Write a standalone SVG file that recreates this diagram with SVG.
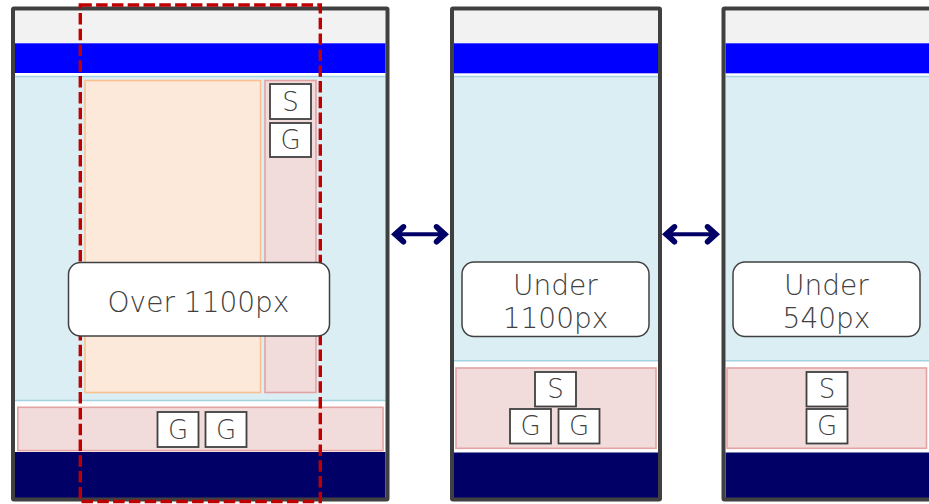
<svg xmlns="http://www.w3.org/2000/svg" width="929" height="504" viewBox="0 0 929 504">
<style>
.frame{fill:none;stroke:#404040;stroke-width:4}
.gray{fill:#f2f2f2}
.blue{fill:#0000ff}
.lb{fill:#daeef3}
.lbl{stroke:#a3d3e0;stroke-width:1.6}
.pink{fill:#f2dcdb;stroke:#e3a3a3;stroke-width:1.6}
.org{fill:#fde9d9;stroke:#fac08f;stroke-width:1.6}
.navy{fill:#000066}
.box{fill:#ffffff;stroke:#404040;stroke-width:1.8}
.lab{fill:#ffffff;stroke:#404040;stroke-width:1.5}
.t{font-family:"DejaVu Sans",sans-serif;font-weight:200;fill:#404040;text-anchor:middle}
.big{font-size:28px}
.sm{font-size:26px}
.arr{stroke:#000066;stroke-width:4;fill:none}
.ah{fill:#000066}
</style>
<defs>
<path id="head" d="M0,0 L10.5,-9.5 Q13,-11.3 14.8,-9.3 Q16.3,-7.3 14.5,-5.5 L9,0 L14.5,5.5 Q16.3,7.3 14.8,9.3 Q13,11.3 10.5,9.5 Z"/>
</defs>
<rect width="929" height="504" fill="#ffffff"/>

<g id="panel-over-1100">
<rect class="gray" x="15" y="10.5" width="370.5" height="32.8"/>
<rect class="blue" x="15" y="43.3" width="370.5" height="29.7"/>
<rect class="lb" x="15" y="76.5" width="370.5" height="324"/>
<line class="lbl" x1="15" y1="76.5" x2="385.5" y2="76.5"/>
<line class="lbl" x1="15" y1="400.5" x2="385.5" y2="400.5"/>
<rect class="org" x="85" y="80.5" width="175.5" height="312"/>
<rect class="pink" x="265" y="80.5" width="51" height="312"/>
<g id="p1-s"><rect class="box" x="270" y="84" width="41" height="35"/><text class="t sm" x="290.5" y="110.5">S</text></g>
<g id="p1-g"><rect class="box" x="270" y="123" width="41" height="34"/><text class="t sm" x="290.5" y="149">G</text></g>
<rect class="pink" x="17.8" y="407.3" width="365.2" height="43.3"/>
<g id="p1-g2"><rect class="box" x="157.5" y="412" width="41" height="35"/><text class="t sm" x="178" y="438.5">G</text></g>
<g id="p1-g3"><rect class="box" x="205.5" y="412" width="41" height="35"/><text class="t sm" x="226" y="438.5">G</text></g>
<rect class="navy" x="15" y="452" width="370.5" height="48"/>
<rect class="frame" x="13" y="8.5" width="374.5" height="491" rx="1"/>
<rect x="80.3" y="5" width="240" height="496.5" fill="none" stroke="#c00000" stroke-width="3.4" stroke-dasharray="11.5 4.3"/>
<g id="label-over"><rect class="lab" x="68.5" y="262.5" width="261" height="73.5" rx="12"/><text class="t big" x="198.5" y="312">Over 1100px</text></g>
</g>

<g id="panel-under-1100">
<rect class="gray" x="454" y="10.5" width="204" height="32.8"/>
<rect class="blue" x="454" y="43.3" width="204" height="30"/>
<rect class="lb" x="454" y="76.5" width="204" height="284.2"/>
<line class="lbl" x1="454" y1="76.5" x2="658" y2="76.5"/>
<line class="lbl" x1="454" y1="360.7" x2="658" y2="360.7"/>
<rect class="pink" x="456" y="368" width="200" height="80.3"/>
<g id="p2-s"><rect class="box" x="535" y="372" width="41" height="34.5"/><text class="t sm" x="555.5" y="398">S</text></g>
<g id="p2-g1"><rect class="box" x="510" y="409" width="41" height="34.5"/><text class="t sm" x="530.5" y="435">G</text></g>
<g id="p2-g2"><rect class="box" x="558.5" y="409" width="41" height="34.5"/><text class="t sm" x="579" y="435">G</text></g>
<rect class="navy" x="454" y="452.5" width="204" height="47.5"/>
<rect class="frame" x="452" y="8.5" width="208" height="491" rx="1"/>
<g id="label-under-1100"><rect class="lab" x="462" y="262" width="187" height="74.5" rx="12"/><text class="t big" x="555.5" y="294.5">Under</text><text class="t big" x="555.5" y="327.5">1100px</text></g>
</g>

<g id="panel-under-540">
<rect class="gray" x="725.5" y="10.5" width="206" height="32.8"/>
<rect class="blue" x="725.5" y="43.3" width="206" height="30"/>
<rect class="lb" x="725.5" y="76.5" width="206" height="284.2"/>
<line class="lbl" x1="725.5" y1="76.5" x2="931.5" y2="76.5"/>
<line class="lbl" x1="725.5" y1="360.7" x2="931.5" y2="360.7"/>
<rect class="pink" x="727" y="368" width="199.5" height="80.3"/>
<g id="p3-s"><rect class="box" x="806.5" y="372" width="41" height="34.5"/><text class="t sm" x="827" y="398">S</text></g>
<g id="p3-g"><rect class="box" x="806.5" y="409" width="41" height="34.5"/><text class="t sm" x="827" y="435">G</text></g>
<rect class="navy" x="725.5" y="452.5" width="206" height="47.5"/>
<rect class="frame" x="723.5" y="8.5" width="210" height="491" rx="1"/>
<g id="label-under-540"><rect class="lab" x="733" y="262" width="187" height="74.5" rx="12"/><text class="t big" x="826.5" y="294.5">Under</text><text class="t big" x="826.5" y="327.5">540px</text></g>
</g>

<g id="connectors">
<line class="arr" x1="398" y1="234.3" x2="442" y2="234.3"/>
<use href="#head" class="ah" transform="translate(391,234.3)"/>
<use href="#head" class="ah" transform="translate(449,234.3) scale(-1,1)"/>
<line class="arr" x1="669" y1="234.3" x2="713" y2="234.3"/>
<use href="#head" class="ah" transform="translate(662,234.3)"/>
<use href="#head" class="ah" transform="translate(720,234.3) scale(-1,1)"/>
</g>
</svg>
